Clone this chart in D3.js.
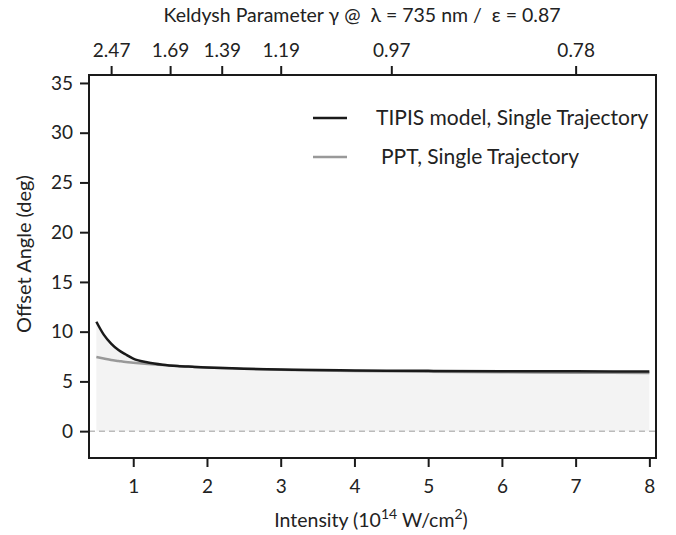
<!DOCTYPE html>
<html>
<head>
<meta charset="utf-8">
<script src="https://cdn.jsdelivr.net/npm/d3@7"></script>
<style>
  html, body { margin: 0; padding: 0; background: #fff; }
  svg { display: block; }
  text { font-family: "Lato", "Liberation Sans", sans-serif; fill: #222; }
</style>
</head>
<body>
<svg id="chart" width="676" height="535"></svg>
<script>
// ---- data ----
const intensity = [0.5, 0.6, 0.7, 0.8, 0.9, 1.0, 1.2, 1.4, 1.6, 1.8, 2.0, 2.5, 3.0, 3.5, 4.0, 5.0, 6.0, 7.0, 8.0];
const tipisAngle = [11.0, 9.7, 8.8, 8.15, 7.7, 7.3, 6.9, 6.68, 6.55, 6.47, 6.4, 6.28, 6.2, 6.15, 6.1, 6.06, 6.03, 6.01, 6.0];
const pptAngle   = [7.45, 7.3, 7.15, 7.05, 6.95, 6.88, 6.75, 6.64, 6.55, 6.47, 6.4, 6.27, 6.17, 6.1, 6.05, 5.98, 5.92, 5.88, 5.85];

const xTicks = [1, 2, 3, 4, 5, 6, 7, 8];
const yTicks = [0, 5, 10, 15, 20, 25, 30, 35];
const gammaTickIntensity = [0.7, 1.5, 2.2, 3.0, 4.5, 7.0];
const gammaTickLabels = ["2.47", "1.69", "1.39", "1.19", "0.97", "0.78"];

const seriesNames = ["TIPIS model, Single Trajectory", "PPT, Single Trajectory"];
const seriesColors = ["#1a1a1a", "#999999"];

// ---- layout ----
const svg = d3.select("#chart");
const mLeft = 89, mRight = 656, mTop = 75, mBottom = 458;

const x = d3.scaleLinear().domain([0.4, 8.09]).range([mLeft, mRight]);
const y = d3.scaleLinear().domain([-2.7, 35.8]).range([mBottom, mTop]);

// fill under curves
const rows = intensity.map((d, i) => ({ x: d, a: tipisAngle[i], b: pptAngle[i] }));
svg.append("path")
  .datum(rows)
  .attr("fill", "#f3f3f3")
  .attr("d", d3.area().x(d => x(d.x)).y0(y(0)).y1(d => y(Math.max(d.a, d.b))).curve(d3.curveMonotoneX));

// zero dashed line
svg.append("line")
  .attr("x1", mLeft).attr("x2", mRight)
  .attr("y1", y(0)).attr("y2", y(0))
  .attr("stroke", "#bbbbbb").attr("stroke-width", 1.5)
  .attr("stroke-dasharray", "6,4");

// curves
const line = key => d3.line().x(d => x(d.x)).y(d => y(d[key])).curve(d3.curveMonotoneX);
svg.append("path").datum(rows).attr("fill", "none")
  .attr("stroke", seriesColors[1]).attr("stroke-width", 2.5).attr("d", line("b"));
svg.append("path").datum(rows).attr("fill", "none")
  .attr("stroke", seriesColors[0]).attr("stroke-width", 2.5).attr("d", line("a"));

// frame
svg.append("rect")
  .attr("x", mLeft).attr("y", mTop)
  .attr("width", mRight - mLeft).attr("height", mBottom - mTop)
  .attr("fill", "none").attr("stroke", "#1a1a1a").attr("stroke-width", 2);

// axes
const styleAxis = g => {
  g.select(".domain").remove();
  g.selectAll(".tick line").attr("stroke", "#1a1a1a").attr("stroke-width", 2);
  g.selectAll(".tick text").attr("fill", "#222").style("font-size", "19px")
    .style("font-family", "Lato, 'Liberation Sans', sans-serif");
};

svg.append("g").attr("transform", `translate(0,${mBottom})`)
  .call(d3.axisBottom(x).tickValues(xTicks).tickFormat(d3.format("d")).tickSize(9).tickPadding(13))
  .call(styleAxis);

svg.append("g").attr("transform", `translate(${mLeft},0)`)
  .call(d3.axisLeft(y).tickValues(yTicks).tickFormat(d3.format("d")).tickSize(9).tickPadding(7))
  .call(styleAxis);

svg.append("g").attr("transform", `translate(0,${mTop})`)
  .call(d3.axisTop(x).tickValues(gammaTickIntensity).tickFormat((d, i) => gammaTickLabels[i]).tickSize(9).tickPadding(9))
  .call(styleAxis);

// titles
svg.append("text")
  .attr("x", 362).attr("y", 22).attr("text-anchor", "middle")
  .style("font-size", "19.5px")
  .style("white-space", "pre")
  .text("Keldysh Parameter \u03B3 @  \u03BB = 735 nm /  \u03B5 = 0.87");

svg.append("text")
  .attr("transform", `translate(31,254) rotate(-90)`)
  .attr("text-anchor", "middle")
  .style("font-size", "20px")
  .text("Offset Angle (deg)");

const xt = svg.append("text")
  .attr("x", 371).attr("y", 527).attr("text-anchor", "middle")
  .style("font-size", "19.5px");
xt.append("tspan").text("Intensity (10");
xt.append("tspan").attr("dy", -8).style("font-size", "14px").text("14");
xt.append("tspan").attr("dy", 8).text(" W/cm");
xt.append("tspan").attr("dy", -8).style("font-size", "14px").text("2");
xt.append("tspan").attr("dy", 8).text(")");

// legend
const legY = [118, 157];
const legTextX = [376, 381];
seriesNames.forEach((name, i) => {
  svg.append("line")
    .attr("x1", 313).attr("x2", 347)
    .attr("y1", legY[i]).attr("y2", legY[i])
    .attr("stroke", seriesColors[i]).attr("stroke-width", 2.5);
  svg.append("text")
    .attr("x", legTextX[i]).attr("y", legY[i] + 7)
    .style("font-size", "21px")
    .text(name);
});
</script>
</body>
</html>
